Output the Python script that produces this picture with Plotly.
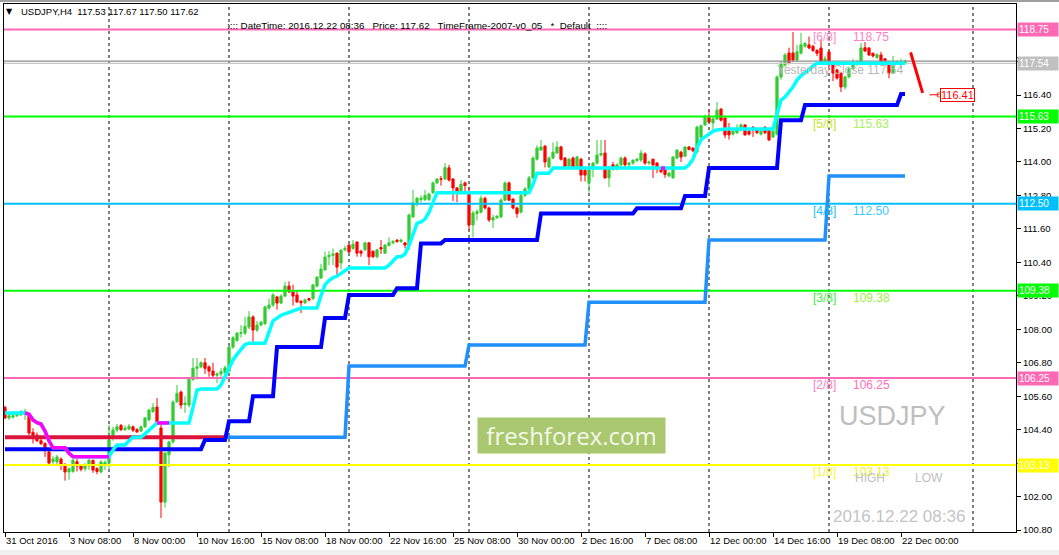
import plotly.graph_objects as go

# ------------------------------------------------------------------ data
N_BARS = 226
bar_index = list(range(N_BARS))

opens = [
    105.20, 104.82, 104.85, 104.90, 104.93, 105.00, 104.95, 104.30, 104.20, 104.00,
    103.90, 103.60, 103.25, 103.24, 103.35, 103.13, 102.88, 102.90, 103.25, 103.10,
    103.00, 103.10, 103.30, 103.00, 102.88, 103.15, 103.20, 104.20, 104.39, 104.55,
    104.40, 104.42, 104.50, 104.40, 104.35, 104.50, 104.75, 105.05, 105.21, 104.46,
    101.80, 103.50, 103.96, 105.40, 105.75, 105.30, 105.28, 106.20, 106.60, 106.65,
    106.80, 106.65, 106.50, 106.35, 106.40, 106.45, 106.50, 107.36, 107.60, 107.85,
    107.86, 108.08, 108.44, 107.97, 108.15, 108.20, 108.76, 108.87, 109.16, 108.94,
    109.19, 109.55, 109.34, 109.23, 109.00, 108.95, 109.10, 109.10, 109.55, 109.84,
    110.13, 110.60, 110.65, 110.73, 110.38, 110.85, 111.02, 110.90, 111.13, 110.80,
    110.85, 111.10, 110.80, 110.60, 110.93, 110.73, 111.00, 111.10, 111.20, 111.15,
    111.10, 111.02, 112.03, 112.55, 112.65, 112.65, 112.65, 112.90, 113.25, 113.40,
    113.39, 113.79, 113.39, 113.07, 112.95, 113.25, 112.85, 111.74, 112.15, 112.20,
    112.70, 112.35, 111.92, 112.00, 112.03, 112.63, 113.25, 112.67, 112.35, 112.20,
    112.80, 113.03, 113.43, 114.10, 114.43, 114.57, 113.82, 114.14, 114.32, 114.54,
    114.14, 113.85, 114.14, 113.80, 114.10, 113.70, 113.25, 113.75, 113.96, 114.25,
    114.32, 113.43, 113.90, 113.75, 113.90, 114.14, 113.90, 113.96, 114.05, 114.07,
    114.29, 113.96, 114.10, 113.96, 113.72, 113.75, 113.50, 113.43, 114.14, 114.35,
    114.21, 114.54, 114.50, 114.36, 114.90, 115.33, 115.60, 115.40, 115.54, 115.90,
    115.58, 115.15, 115.00, 115.05, 115.15, 115.33, 115.10, 115.25, 115.20, 115.00,
    115.25, 115.15, 114.90, 115.00, 117.05, 117.48, 117.91, 117.91, 117.66, 117.91,
    118.15, 118.20, 118.15, 118.00, 118.09, 117.60, 117.95, 117.55, 117.30, 117.19,
    116.69, 117.05, 117.34, 117.50, 117.59, 118.10, 118.09, 117.90, 117.75, 117.84,
    117.70, 117.59, 117.20, 117.55, 117.55, 117.53,
]
highs = [
    105.25, 105.00, 105.00, 105.05, 105.10, 105.15, 105.00, 104.45, 104.30, 104.10,
    103.95, 103.70, 103.45, 103.50, 103.40, 103.20, 103.05, 103.35, 103.35, 103.15,
    103.20, 103.35, 103.32, 103.05, 103.30, 103.30, 104.57, 104.50, 104.60, 104.60,
    104.55, 104.60, 104.55, 104.45, 104.55, 104.85, 105.15, 105.35, 105.53, 104.60,
    103.60, 104.00, 105.45, 106.00, 105.80, 105.60, 106.25, 106.97, 106.97, 106.85,
    106.97, 106.70, 106.80, 106.45, 106.60, 106.70, 107.40, 107.75, 107.90, 108.15,
    108.45, 108.65, 108.50, 108.30, 108.30, 108.85, 109.10, 109.30, 109.20, 109.25,
    109.70, 109.72, 109.60, 109.40, 109.05, 109.10, 109.12, 109.62, 109.90, 110.35,
    110.78, 110.80, 110.90, 110.75, 110.86, 111.00, 111.05, 111.20, 111.15, 110.85,
    111.12, 111.12, 110.82, 110.88, 111.20, 111.05, 111.30, 111.20, 111.22, 111.25,
    111.12, 112.15, 113.00, 112.75, 112.80, 113.00, 112.90, 113.30, 113.42, 113.50,
    113.96, 113.90, 113.42, 113.10, 113.35, 113.30, 113.10, 112.25, 112.30, 112.80,
    112.75, 112.40, 112.10, 112.10, 112.70, 113.30, 113.30, 112.70, 112.40, 112.85,
    113.10, 113.50, 114.20, 114.60, 114.79, 114.60, 114.20, 114.70, 114.75, 114.58,
    114.18, 114.15, 114.20, 114.22, 114.15, 113.75, 113.75, 114.00, 114.79, 114.79,
    114.79, 113.85, 114.00, 113.95, 114.20, 114.20, 114.00, 114.10, 114.15, 114.43,
    114.35, 114.05, 114.12, 114.00, 113.80, 113.80, 113.65, 114.20, 114.45, 114.40,
    114.56, 114.56, 114.52, 115.30, 115.35, 115.70, 115.86, 115.60, 116.15, 115.92,
    115.60, 115.40, 115.15, 115.35, 115.38, 115.35, 115.20, 115.28, 115.22, 115.15,
    115.28, 115.18, 115.15, 117.10, 117.60, 117.90, 118.10, 118.66, 118.20, 118.63,
    118.30, 118.50, 118.20, 118.05, 118.40, 117.80, 118.00, 117.60, 117.35, 117.20,
    117.10, 117.40, 117.70, 117.65, 118.27, 118.30, 118.12, 117.92, 117.90, 117.95,
    117.72, 117.60, 117.80, 117.65, 117.70, 117.67,
]
lows = [
    104.78, 104.75, 104.80, 104.85, 104.90, 104.75, 104.20, 103.90, 103.95, 103.85,
    103.42, 103.15, 103.10, 103.10, 102.95, 102.57, 102.60, 102.85, 102.90, 102.90,
    102.90, 102.95, 102.85, 102.80, 102.85, 102.95, 103.00, 104.00, 104.30, 104.35,
    104.35, 104.38, 104.32, 104.28, 104.30, 104.45, 104.70, 105.00, 104.60, 101.23,
    101.60, 103.05, 103.90, 105.35, 105.15, 105.00, 105.20, 106.15, 106.20, 106.60,
    106.40, 106.30, 106.25, 106.07, 106.30, 106.40, 106.45, 107.30, 107.55, 107.70,
    107.80, 108.00, 107.50, 107.90, 108.10, 108.15, 108.70, 108.80, 108.70, 108.90,
    109.15, 109.30, 108.85, 108.95, 108.58, 108.90, 109.00, 109.05, 109.50, 109.80,
    110.10, 110.30, 110.30, 109.87, 110.15, 110.80, 110.75, 110.85, 110.60, 110.60,
    110.80, 110.30, 110.55, 110.55, 110.70, 110.70, 110.98, 111.05, 111.10, 111.10,
    110.90, 110.84, 112.00, 112.40, 112.55, 112.60, 112.60, 112.85, 113.20, 113.15,
    113.35, 113.30, 112.60, 112.56, 112.90, 112.90, 111.56, 111.30, 111.90, 112.15,
    112.30, 111.85, 111.63, 111.95, 111.98, 112.60, 112.60, 112.30, 112.00, 112.15,
    112.75, 113.00, 113.40, 114.05, 114.40, 113.80, 113.78, 114.10, 114.30, 114.05,
    113.78, 113.80, 113.78, 113.75, 113.30, 113.30, 112.90, 113.45, 113.90, 114.20,
    113.40, 113.10, 113.70, 113.70, 113.85, 113.80, 113.85, 113.90, 114.00, 114.00,
    113.90, 113.90, 113.43, 113.60, 113.60, 113.43, 113.45, 113.40, 114.10, 114.00,
    114.18, 114.42, 114.35, 114.30, 114.85, 115.30, 115.40, 115.10, 115.50, 115.45,
    114.85, 114.80, 114.95, 115.00, 115.10, 114.95, 114.95, 114.90, 115.00, 114.95,
    115.00, 114.75, 114.85, 114.95, 116.95, 117.40, 117.50, 117.60, 117.60, 117.85,
    118.10, 118.05, 117.95, 117.80, 117.55, 117.50, 117.30, 116.90, 116.95, 116.51,
    116.60, 117.00, 117.30, 117.45, 117.55, 117.95, 117.80, 117.75, 117.70, 117.55,
    117.50, 117.00, 117.15, 117.50, 117.35, 117.50,
]
closes = [
    104.82, 104.90, 104.90, 104.93, 105.05, 105.05, 104.28, 104.20, 104.00, 103.90,
    103.70, 103.20, 103.35, 103.42, 103.13, 102.88, 103.00, 103.30, 103.10, 102.98,
    103.10, 103.30, 102.95, 102.90, 103.24, 103.22, 104.03, 104.39, 104.50, 104.40,
    104.45, 104.52, 104.38, 104.32, 104.50, 104.82, 105.10, 105.20, 104.64, 101.80,
    103.56, 103.96, 105.39, 105.70, 105.28, 105.35, 106.20, 106.60, 106.65, 106.80,
    106.60, 106.50, 106.35, 106.40, 106.48, 106.62, 107.36, 107.70, 107.86, 107.88,
    108.10, 108.44, 107.97, 108.15, 108.25, 108.80, 108.87, 109.23, 108.94, 109.19,
    109.55, 109.34, 109.19, 108.98, 108.95, 109.05, 109.05, 109.59, 109.87, 110.16,
    110.59, 110.65, 110.70, 110.23, 110.84, 110.90, 110.77, 111.05, 110.73, 110.73,
    111.10, 110.60, 110.60, 110.85, 110.88, 111.02, 111.10, 111.15, 111.15, 111.20,
    111.02, 112.10, 112.53, 112.70, 112.70, 112.80, 112.85, 113.25, 113.39, 113.38,
    113.80, 113.35, 113.07, 112.95, 113.20, 113.15, 111.74, 112.17, 112.22, 112.70,
    112.35, 111.92, 112.00, 112.05, 112.63, 113.25, 112.63, 112.35, 112.15, 112.80,
    113.03, 113.43, 114.14, 114.50, 114.54, 114.00, 114.14, 114.35, 114.54, 114.10,
    113.82, 114.10, 113.82, 114.18, 113.53, 113.53, 113.71, 113.96, 114.25, 114.30,
    113.43, 113.80, 113.75, 113.90, 114.14, 113.90, 113.96, 114.06, 114.10, 114.32,
    113.96, 114.00, 113.90, 113.75, 113.65, 113.55, 113.60, 114.18, 114.43, 114.18,
    114.54, 114.45, 114.40, 115.25, 115.30, 115.60, 115.43, 115.55, 115.86, 115.50,
    114.97, 114.97, 115.10, 115.15, 115.33, 114.97, 115.00, 115.15, 115.05, 115.10,
    115.05, 114.79, 115.10, 117.05, 117.55, 117.84, 117.55, 117.66, 117.95, 118.20,
    118.25, 118.09, 118.00, 117.90, 117.59, 117.70, 117.48, 117.19, 117.01, 116.69,
    117.05, 117.34, 117.50, 117.60, 118.09, 117.98, 117.84, 117.80, 117.85, 117.59,
    117.55, 117.19, 117.60, 117.60, 117.60, 117.62,
]

# time axis
x_tick_index = [0, 16, 32, 48, 64, 80, 96, 112, 128, 144, 160, 176, 192, 208, 224]
x_tick_labels = ["31 Oct 2016", "3 Nov 08:00", "8 Nov 00:00", "10 Nov 16:00",
                 "15 Nov 08:00", "18 Nov 00:00", "22 Nov 16:00", "25 Nov 08:00",
                 "30 Nov 00:00", "2 Dec 16:00", "7 Dec 08:00", "12 Dec 00:00",
                 "14 Dec 16:00", "19 Dec 08:00", "22 Dec 00:00"]
grid_index = [26, 56, 86, 116, 146, 176, 206, 242]

# price axis
y_tick_values = [100.80, 102.00, 103.20, 104.40, 105.60, 106.80, 108.00, 109.20,
                 110.40, 111.60, 112.80, 114.00, 115.20, 116.40, 117.60]

# Murrey-math levels
levels = [118.75, 115.63, 112.50, 109.38, 106.25, 103.13]
level_names = ["[6/8]", "[5/8]", "[4/8]", "[3/8]", "[2/8]", "[1/8]"]
level_line_colors = ["#FF69B4", "#00FF00", "#00BFFF", "#00FF00", "#FF69B4", "#FFFF00"]
level_name_colors = ["#FF8CC8", "#C2E62A", "#19BFF5", "#3CF03C", "#FF7CC0", "#F5F53A"]
level_value_colors = ["#FF80C0", "#A6F05A", "#3CC8FF", "#9CF03C", "#FF70B8", "#F0F028"]

bid_price = 117.62
yesterday_close = 117.54

# trailing trend line (piecewise: start bar, value)
trend_start = [0, 6, 7, 8, 9, 10, 11, 12, 16, 17, 27, 28, 31, 32, 35, 36, 37, 38,
               47, 48, 49, 54, 55, 56, 57, 58, 59, 60, 61, 66, 67, 68, 69, 70, 71,
               72, 73, 74, 79, 80, 81, 82, 83, 84, 85, 86, 96, 97, 98, 100, 101,
               102, 103, 104, 105, 106, 107, 108, 132, 133, 137, 171, 172, 173,
               174, 175, 176, 177, 178, 179, 193, 194, 195, 196, 197, 198, 199,
               200, 201, 202, 203]
trend_value = [105.00, 104.95, 104.75, 104.65, 104.60, 104.35, 104.00, 103.75, 103.55,
               103.43, 103.67, 103.85, 104.00, 104.13, 104.25, 104.39, 104.50, 104.64,
               105.20, 105.82, 105.86, 106.00, 106.30, 106.60, 106.90, 107.10, 107.30,
               107.45, 107.50, 107.90, 108.30, 108.40, 108.50, 108.55, 108.60, 108.65,
               108.70, 108.76, 109.20, 109.60, 109.75, 109.85, 109.90, 110.00, 110.10,
               110.20, 110.30, 110.45, 110.60, 110.70, 111.00, 111.40, 111.80, 111.85,
               111.95, 112.20, 112.55, 112.90, 113.20, 113.60, 113.78, 113.90, 114.10,
               114.50, 114.80, 114.90, 115.00, 115.10, 115.15, 115.18, 115.70, 116.22,
               116.33, 116.50, 116.69, 116.94, 117.10, 117.20, 117.30, 117.45, 117.54]
trend_down_from = [5, 38, 164]
trend_down_to = [26, 41, 165]

# stepped support lines
blue_start = [0, 50, 56, 62, 68, 80, 86, 98, 104, 110, 134, 158, 170, 176, 194, 200, 224]
blue_value = [103.70, 104.03, 104.70, 105.60, 107.36, 108.40, 109.23, 109.47, 111.08,
              111.20, 112.15, 112.34, 112.78, 113.78, 115.50, 116.04, 116.44]
base_start = [0, 86, 116, 146, 176, 206]
base_value = [104.13, 106.68, 107.44, 108.97, 111.20, 113.50]
base_red_last = 55

# projection
forecast_price = 116.41
forecast_x = [226.4, 229.4]
forecast_y = [117.93, 116.48]
forecast_tick_x = [231.3, 233.6]


# ------------------------------------------------------------------ geometry
W, H = 1059, 555
L, R, T, B = 4, 43, 4, 23
PW, PH = W - L - R, H - T - B
PX_PER_BAR = 4.0
X0 = -0.25
X1 = X0 + PW / PX_PER_BAR
Y0 = 100.80 - 2 / 27.88
Y1 = 100.80 + 526 / 27.88


def paper_x(px):
    return (px - L) / PW


def paper_y(py):
    return (T + PH - py) / PH


def bar_at(px):
    return X0 + (px - L) / PX_PER_BAR


def price_at(py):
    return Y1 - (py - T) * (Y1 - Y0) / PH


def expand(starts, values, first, last):
    out = []
    k = 0
    for i in range(first, last + 1):
        while k + 1 < len(starts) and starts[k + 1] <= i:
            k += 1
        out.append(values[k])
    return out


trend_line = expand(trend_start, trend_value, 0, N_BARS - 1)
blue_line = expand(blue_start, blue_value, 0, N_BARS - 1)
base_line = expand(base_start, base_value, 0, N_BARS - 1)

FONT = "Liberation Sans, Arial, sans-serif"

fig = go.Figure()

fig.add_trace(go.Candlestick(
    x=bar_index, open=opens, high=highs, low=lows, close=closes,
    increasing=dict(line=dict(color="#32CD32", width=1), fillcolor="#32CD32"),
    decreasing=dict(line=dict(color="#FF0000", width=1), fillcolor="#FF0000"),
    whiskerwidth=0, hoverinfo="skip", showlegend=False))

# level lines
for lv, col in zip(levels, level_line_colors):
    fig.add_trace(go.Scatter(x=[X0, X1], y=[lv, lv], mode="lines",
                             line=dict(color=col, width=2), hoverinfo="skip",
                             showlegend=False))
fig.add_trace(go.Scatter(x=[X0, X1], y=[bid_price, bid_price], mode="lines",
                         line=dict(color="#8C8C8C", width=1.3), hoverinfo="skip",
                         showlegend=False))
fig.add_trace(go.Scatter(x=[X0, X1], y=[yesterday_close, yesterday_close], mode="lines",
                         line=dict(color="#C8C8C8", width=1.3), hoverinfo="skip",
                         showlegend=False))

# base line: crimson then dodger blue
fig.add_trace(go.Scatter(x=bar_index[:base_red_last + 1], y=base_line[:base_red_last + 1],
                         mode="lines", line=dict(color="#DC143C", width=4),
                         hoverinfo="skip", showlegend=False))
fig.add_trace(go.Scatter(x=bar_index[base_red_last:], y=base_line[base_red_last:],
                         mode="lines", line=dict(color="#1E90FF", width=3.5),
                         hoverinfo="skip", showlegend=False))
# blue support
fig.add_trace(go.Scatter(x=bar_index, y=blue_line, mode="lines",
                         line=dict(color="#0000FF", width=4), hoverinfo="skip",
                         showlegend=False))
# trailing trend line
fig.add_trace(go.Scatter(x=bar_index, y=trend_line, mode="lines",
                         line=dict(color="#00FFFF", width=3.5), hoverinfo="skip",
                         showlegend=False))
for a, b in zip(trend_down_from, trend_down_to):
    fig.add_trace(go.Scatter(x=bar_index[a:b + 1], y=trend_line[a:b + 1], mode="lines",
                             line=dict(color="#FF00FF", width=3.5), hoverinfo="skip",
                             showlegend=False))

# projection
fig.add_trace(go.Scatter(x=forecast_x, y=forecast_y, mode="lines",
                         line=dict(color="#FF0000", width=3), hoverinfo="skip",
                         showlegend=False))
fig.add_trace(go.Scatter(x=forecast_tick_x, y=[forecast_price, forecast_price],
                         mode="lines+markers",
                         marker=dict(symbol=["line-ew", "square-open"], size=[1, 4],
                                     color="#FF0000", line=dict(color="#FF0000", width=1)),
                         line=dict(color="#FF0000", width=1), hoverinfo="skip",
                         showlegend=False))

shapes = []
for g in grid_index:
    shapes.append(dict(type="line", xref="x", yref="paper", x0=g, x1=g, y0=0, y1=1,
                       line=dict(color="black", width=1, dash="3px,3px"), layer="below"))
# window frame bits
shapes.append(dict(type="rect", xref="paper", yref="paper", x0=paper_x(0), x1=paper_x(W),
                   y0=paper_y(0), y1=paper_y(2), fillcolor="#A0A0A0", line=dict(width=0)))
shapes.append(dict(type="rect", xref="paper", yref="paper", x0=paper_x(0), x1=paper_x(W),
                   y0=paper_y(550), y1=paper_y(H), fillcolor="#F0F0F0", line=dict(width=0)))
# bid mark on axis
shapes.append(dict(type="line", xref="paper", yref="y", x0=paper_x(1016), x1=paper_x(1057),
                   y0=bid_price + 0.12, y1=bid_price + 0.12, line=dict(color="black", width=1)))

ann = []
# header
ann.append(dict(text="▼", x=paper_x(9.5), y=paper_y(12), xref="paper", yref="paper",
                showarrow=False, font=dict(family="DejaVu Sans", size=8, color="black"),
                xanchor="center", yanchor="middle"))
ann.append(dict(text="USDJPY,H4  117.53 117.67 117.50 117.62", x=paper_x(19),
                y=paper_y(12), xref="paper", yref="paper", showarrow=False,
                font=dict(family=FONT, size=9.5, color="black"),
                xanchor="left", yanchor="middle"))
ann.append(dict(text=":::: DateTime: 2016.12.22 08:36   Price: 117.62   TimeFrame-2007-v0_05   *  Default  ::::",
                x=paper_x(225), y=paper_y(26), xref="paper", yref="paper", showarrow=False,
                font=dict(family=FONT, size=9.8, color="black"),
                xanchor="left", yanchor="middle"))

# level captions inside the chart
for lv, nm, cn, cv in zip(levels, level_names, level_name_colors, level_value_colors):
    ann.append(dict(text=nm, x=bar_at(811), y=lv, xref="x", yref="y", yshift=-7,
                    showarrow=False, font=dict(family=FONT, size=12, color=cn),
                    xanchor="left", yanchor="middle"))
    ann.append(dict(text=f"{lv:.2f}", x=bar_at(851), y=lv, xref="x", yref="y", yshift=-7,
                    showarrow=False, font=dict(family=FONT, size=12, color=cv),
                    xanchor="left", yanchor="middle"))

# price tags on the axis
tags = [(118.75, "#FF69B4"), (yesterday_close, "#C0C0C0"), (115.63, "#00FF00"),
        (112.50, "#00BFFF"), (109.38, "#00FF00"), (106.25, "#FF69B4"), (103.13, "#FFFF00")]
for val, col in tags:
    ann.append(dict(text=f"{val:.2f}", x=paper_x(1017), y=val, xref="paper", yref="y",
                    showarrow=False, bgcolor=col, borderpad=1, width=38, height=11,
                    align="left", font=dict(family=FONT, size=10, color="white"),
                    xanchor="left", yanchor="middle"))

ann.append(dict(text=f"Yesterday Close {yesterday_close:.2f}", x=bar_at(905),
                y=price_at(70), xref="x", yref="y", showarrow=False,
                font=dict(family=FONT, size=12, color="#B8B8B8"),
                xanchor="right", yanchor="middle"))

ann.append(dict(text=f"{forecast_price:.2f}", x=bar_at(940), y=forecast_price, xref="x",
                yref="y", showarrow=False, bgcolor="white", bordercolor="#FF0000",
                borderwidth=1, borderpad=0, font=dict(family=FONT, size=11, color="#FF0000"),
                xanchor="left", yanchor="middle"))

ann.append(dict(text="USDJPY", x=paper_x(892.5), y=paper_y(416), xref="paper",
                yref="paper", showarrow=False,
                font=dict(family=FONT, size=27, color="#BEBEBE"),
                xanchor="center", yanchor="middle"))
ann.append(dict(text="HIGH", x=paper_x(870), y=paper_y(478), xref="paper", yref="paper",
                showarrow=False, font=dict(family=FONT, size=12, color="#C0C0C0"),
                xanchor="center", yanchor="middle"))
ann.append(dict(text="LOW", x=paper_x(928.5), y=paper_y(478), xref="paper", yref="paper",
                showarrow=False, font=dict(family=FONT, size=12, color="#C0C0C0"),
                xanchor="center", yanchor="middle"))
ann.append(dict(text="2016.12.22 08:36", x=paper_x(899), y=paper_y(516), xref="paper",
                yref="paper", showarrow=False,
                font=dict(family=FONT, size=17, color="#C4C4C4"),
                xanchor="center", yanchor="middle"))

ann.append(dict(text="freshforex.com", x=paper_x(571.5), y=paper_y(435.5), xref="paper",
                yref="paper", showarrow=False, bgcolor="#A9C76E", borderpad=2,
                width=183, height=31,
                font=dict(family="Open Sans", size=24, color="#F4F8EA"),
                xanchor="center", yanchor="middle"))

fig.update_layout(
    width=W, height=H, autosize=False,
    margin=dict(l=L, r=R, t=T, b=B, pad=0),
    paper_bgcolor="white", plot_bgcolor="white",
    showlegend=False, boxgap=0.45, boxgroupgap=0,
    shapes=shapes, annotations=ann,
    xaxis=dict(range=[X0, X1], tickmode="array", tickvals=x_tick_index,
               ticktext=x_tick_labels, ticks="outside", ticklen=4, tickcolor="black",
               ticklabelposition="outside right", tickangle=0,
               tickfont=dict(family=FONT, size=9.5, color="black"),
               showgrid=False, zeroline=False, showline=True, linecolor="black",
               linewidth=1, mirror=True, rangeslider=dict(visible=False),
               fixedrange=True, automargin=False),
    yaxis=dict(range=[Y0, Y1], side="right", tickmode="array", tickvals=y_tick_values,
               ticktext=[f"{v:.2f}" for v in y_tick_values], ticks="outside",
               ticklen=4, tickcolor="black",
               tickfont=dict(family=FONT, size=9.5, color="black"),
               showgrid=False, zeroline=False, showline=True, linecolor="black",
               linewidth=1, mirror=True, fixedrange=True, automargin=False),
)

fig.write_html("out.html", config={"displayModeBar": False},
               post_script="document.body.style.margin='0';document.body.style.overflow='hidden';")
